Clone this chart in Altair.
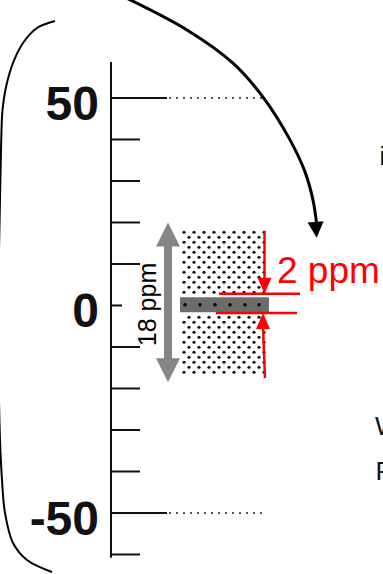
import altair as alt
import numpy as np
import pandas as pd

# ---------------------------------------------------------------------------
# Values (ppm)
# ---------------------------------------------------------------------------
tick_values = [50, 40, 30, 20, 10, 0, -10, -20, -30, -40, -50, -60]
label_values = [50, 0, -50]
guide_values = [50, -50]                 # dotted guides at the major labels
axis_extent = [58.7, -60.8]              # top / bottom of the scale bar

wide_range = [18.0, -17.5]               # stippled envelope (about +/-18 ppm)
wide_arrow = [20.0, -18.5]               # grey double arrow tips
narrow_range = [2.0, -1.6]               # dark band (about +/-2 ppm)
bracket_levels = [2.8, -1.8]             # red bracket lines around the band
wide_label = "18 ppm"
narrow_label = "2 ppm"

# Decorative strokes: (x, ppm) control points
sweep_x = [122, 187, 233, 263, 290, 305, 313, 316.5]
sweep_y = [74.6, 66.4, 58.4, 50.2, 39.9, 32.2, 25.4, 19.9]
sweep_tip = (316.7, 16.3)

brace_x = [55, 37, 23, 13, 6, 2.5, 1, 0, -1, -2, -1, 0, 2, 5, 13, 27, 52]
brace_y = [68.55, 66.87, 63.25, 58.43, 52.65, 47.11, 37.47, 25.42, 13.37,
           -5.9, -22.77, -32.41, -42.05, -50.0, -57.23, -61.33, -64.22]

# ---------------------------------------------------------------------------
# Canvas / scales
# ---------------------------------------------------------------------------
W, H = 383, 574
PX_PER_PPM = 4.15
Y_DOMAIN = [-64.70, 73.61]
X_DOMAIN = [0, W]
FONT = "Liberation Sans"

xs = alt.Scale(domain=X_DOMAIN, nice=False, zero=False)
ys = alt.Scale(domain=Y_DOMAIN, nice=False, zero=False)


def X(f="x"):
    return alt.X(f"{f}:Q", scale=xs, axis=None)


def Y(f="y"):
    return alt.Y(f"{f}:Q", scale=ys, axis=None)


def px(n):
    """pixel length expressed in ppm units"""
    return n / PX_PER_PPM


AXIS_X = 111
RED = "#ff0000"
GREY = "#858585"

layers = []

# scale bar spine
spine = pd.DataFrame({"x": [AXIS_X], "y": [axis_extent[0]], "y2": [axis_extent[1]]})
layers.append(alt.Chart(spine).mark_rule(color="#111", strokeWidth=2).encode(
    x=X(), y=Y(), y2="y2:Q"))


# ticks: long at +/-50, short at 0, medium elsewhere
def tick_end(v):
    if abs(v) == 50:
        return 167
    if v == 0:
        return 122
    return 140


ticks = pd.DataFrame({"x": AXIS_X, "x2": [tick_end(v) for v in tick_values], "y": tick_values})
layers.append(alt.Chart(ticks).mark_rule(color="#111", strokeWidth=2).encode(
    x=X(), x2="x2:Q", y=Y()))

guides = pd.DataFrame({"x": 169, "x2": 266, "y": guide_values})
layers.append(alt.Chart(guides).mark_rule(color="#555", strokeWidth=2, strokeDash=[2, 5]).encode(
    x=X(), x2="x2:Q", y=Y()))

labels = pd.DataFrame({"x": 99, "y": label_values, "t": [str(v) for v in label_values]})
layers.append(alt.Chart(labels).mark_text(
    font=FONT, fontSize=48, fontWeight="bold", align="right", baseline="alphabetic", dy=22,
    color="#111").encode(x=X(), y=Y(), text="t:N"))

# stipple fill of the wide envelope
BOX_X = (182, 269)
rows = []
yv = wide_range[0] - px(1.5)
r = 0
while yv > wide_range[1] + px(1):
    if not (narrow_range[1] - px(2) < yv < narrow_range[0] + px(2)):
        start = BOX_X[0] + 2 + (5 if r % 2 else 0)
        for xv in np.arange(start, BOX_X[1], 10):
            rows.append({"x": float(xv), "y": yv})
    yv -= px(5)
    r += 1
stipple = pd.DataFrame(rows)
layers.append(alt.Chart(stipple).mark_circle(size=10, color="#111", opacity=1).encode(
    x=X(), y=Y()))

# dark narrow band
band = pd.DataFrame({"x": [180], "x2": [BOX_X[1]], "y": [narrow_range[0]], "y2": [narrow_range[1]]})
layers.append(alt.Chart(band).mark_rect(color="#6c6c6c").encode(
    x=X(), x2="x2:Q", y=Y(), y2="y2:Q"))
band_mid = (narrow_range[0] + narrow_range[1]) / 2
band_dots = pd.DataFrame({"x": [185, 200, 215, 230, 245, 259], "y": band_mid})
layers.append(alt.Chart(band_dots).mark_circle(size=12, color="#000", opacity=1).encode(
    x=X(), y=Y()))

# red bracket lines
brackets = pd.DataFrame({"x": [219, 216], "x2": [300, 297], "y": bracket_levels})
layers.append(alt.Chart(brackets).mark_rule(color=RED, strokeWidth=2.5).encode(
    x=X(), x2="x2:Q", y=Y()))

# red arrows pointing at the bracket lines
RED_HEAD = 16
red_shafts = pd.DataFrame({
    "x": [264.5, 265], "x2": [264.5, 263],
    "y": [wide_range[0], wide_range[1]],
    "y2": [bracket_levels[0] + px(RED_HEAD - 2), bracket_levels[1] - px(RED_HEAD - 2)],
})
layers.append(alt.Chart(red_shafts).mark_rule(color=RED, strokeWidth=2.5).encode(
    x=X(), x2="x2:Q", y=Y(), y2="y2:Q"))
layers.append(alt.Chart(pd.DataFrame({"x": [264.5], "y": [bracket_levels[0]]})).mark_point(
    shape="M0,0 L0.875,-2 L-0.875,-2 Z", size=RED_HEAD ** 2, filled=True, fill=RED,
    strokeWidth=0, opacity=1).encode(x=X(), y=Y()))
layers.append(alt.Chart(pd.DataFrame({"x": [263], "y": [bracket_levels[1]]})).mark_point(
    shape="M0,0 L0.875,2 L-0.875,2 Z", size=RED_HEAD ** 2, filled=True, fill=RED,
    strokeWidth=0, opacity=1).encode(x=X(), y=Y()))

# grey double arrow spanning the wide envelope
GREY_HEAD = 24
ARROW_X = 168
grey_shaft = pd.DataFrame({"x": [ARROW_X], "y": [wide_arrow[0] - px(GREY_HEAD - 2)],
                           "y2": [wide_arrow[1] + px(GREY_HEAD - 2)]})
layers.append(alt.Chart(grey_shaft).mark_rule(color=GREY, strokeWidth=8, strokeCap="butt").encode(
    x=X(), y=Y(), y2="y2:Q"))
layers.append(alt.Chart(pd.DataFrame({"x": [ARROW_X], "y": [wide_arrow[0]]})).mark_point(
    shape="M0,0 L1,2 L-1,2 Z", size=GREY_HEAD ** 2, filled=True, fill=GREY,
    strokeWidth=0, opacity=1).encode(x=X(), y=Y()))
layers.append(alt.Chart(pd.DataFrame({"x": [ARROW_X], "y": [wide_arrow[1]]})).mark_point(
    shape="M0,0 L1,-2 L-1,-2 Z", size=GREY_HEAD ** 2, filled=True, fill=GREY,
    strokeWidth=0, opacity=1).encode(x=X(), y=Y()))

# annotations
layers.append(alt.Chart(pd.DataFrame({"x": [155.5], "y": [0.24], "t": [wide_label]})).mark_text(
    font=FONT, fontSize=25, angle=270, align="center", baseline="alphabetic", color="#000").encode(
    x=X(), y=Y(), text="t:N"))
layers.append(alt.Chart(pd.DataFrame({"x": [277], "y": [5.4], "t": [narrow_label]})).mark_text(
    font=FONT, fontSize=37, align="left", baseline="alphabetic", color=RED).encode(
    x=X(), y=Y(), text="t:N"))

# running text at the right margin (continues past the edge)
side = pd.DataFrame({"x": [379.5, 375, 375.5], "y": [33.8, -31.2, -42.05], "t": ["i", "W", "R"]})
layers.append(alt.Chart(side).mark_text(
    font=FONT, fontSize=26, align="left", baseline="alphabetic", color="#111", clip=True).encode(
    x=X(), y=Y(), text="t:N"))

# sweeping black arrow from the top
sweep = pd.DataFrame({"x": sweep_x, "y": sweep_y, "i": range(len(sweep_x))})
layers.append(alt.Chart(sweep).mark_line(color="#000", strokeWidth=3, interpolate="catmull-rom").encode(
    x=X(), y=Y(), order="i:Q"))
layers.append(alt.Chart(pd.DataFrame({"x": [sweep_tip[0]], "y": [sweep_tip[1]]})).mark_point(
    shape="M0,0 L1,-2 L-1,-2 Z", size=256, filled=True, fill="#000", strokeWidth=0, opacity=1,
    angle=356).encode(x=X(), y=Y()))

# left bracket curve
brace = pd.DataFrame({"x": brace_x, "y": brace_y, "i": range(len(brace_x))})
layers.append(alt.Chart(brace).mark_line(color="#000", strokeWidth=2, interpolate="catmull-rom").encode(
    x=X(), y=Y(), order="i:Q"))

chart = alt.layer(*layers).properties(
    width=W, height=H, padding=0, autosize=alt.AutoSizeParams(type="none"),
    background="white",
).configure_view(stroke=None)

chart.save("out.html", embed_options={"renderer": "svg", "actions": False})
